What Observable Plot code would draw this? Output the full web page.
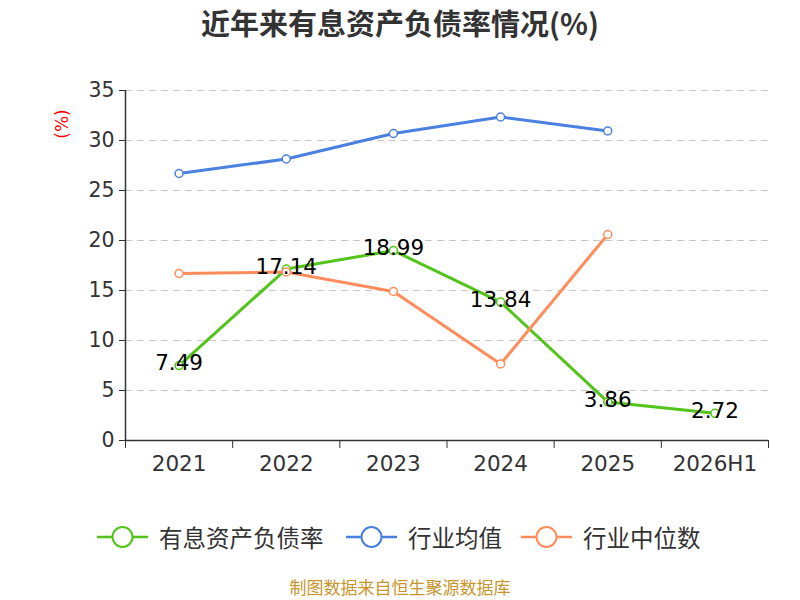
<!DOCTYPE html>
<html>
<head>
<meta charset="utf-8">
<script src="https://cdn.jsdelivr.net/npm/d3@7"></script>
<script src="https://cdn.jsdelivr.net/npm/@observablehq/plot@0.6"></script>
<style>
  body { margin: 0; background: #fff; font-family: "Noto Sans CJK SC", "Noto Sans", sans-serif; }
  #wrap { position: relative; width: 800px; height: 600px; overflow: hidden; }
  #title { position: absolute; top: 0px; left: 0; width: 800px; text-align: center; font-size: 29px; font-weight: bold; color: #333; line-height: 44px; }
  #unit { position: absolute; left: 47px; top: 114px; color: red; font-size: 17px; line-height: 20px; transform: rotate(-90deg); transform-origin: center; font-family: "DejaVu Sans", sans-serif; }
  #chart { position: absolute; left: 0; top: 70px; }
  #legend { position: absolute; top: 520px; left: 0; width: 800px; height: 34px; }
  .item { position: absolute; top: 0; display: flex; align-items: center; height: 34px; font-size: 23.5px; color: #333; }
  .item svg { margin-right: 11px; }
  #caption { position: absolute; top: 576px; left: 0; width: 800px; text-align: center; font-size: 17px; color: #c8952c; line-height: 22px; height: 22px; }
</style>
</head>
<body>
<div id="wrap">
  <div id="title">近年来有息资产负债率情况(%)</div>
  <div id="unit">(%)</div>
  <div id="chart"></div>
  <div id="legend"></div>
  <div id="caption">制图数据来自恒生聚源数据库</div>
</div>
<script>
const categories = ["2021", "2022", "2023", "2024", "2025", "2026H1"];
const debtRatio = [7.49, 17.14, 18.99, 13.84, 3.86, 2.72];
const industryMean = [26.7, 28.15, 30.7, 32.35, 30.95];
const industryMedian = [16.7, 16.85, 14.9, 7.65, 20.6];
const yTicks = [0, 5, 10, 15, 20, 25, 30, 35];
const seriesNames = ["有息资产负债率", "行业均值", "行业中位数"];
const colors = ["#52c41a", "#4a80e0", "#ff8c5a"];

const toRows = (vals) => vals.map((v, i) => ({ i: i + 0.5, v, label: categories[i] }));
const green = toRows(debtRatio);
const blue = toRows(industryMean);
const orange = toRows(industryMedian);
const boundaries = d3.range(categories.length + 1);
const centers = categories.map((c, i) => i + 0.5);

const numFont = "DejaVu Sans, sans-serif";

function series(data, color) {
  return [
    Plot.line(data, { x: "i", y: "v", stroke: color, strokeWidth: 3 }),
    Plot.dot(data, { x: "i", y: "v", r: 4, fill: "#fff", stroke: color, strokeWidth: 1.5 })
  ];
}

const chart = Plot.plot({
  width: 800,
  height: 410,
  marginTop: 20,
  marginBottom: 40,
  marginLeft: 125,
  marginRight: 32,
  style: { fontFamily: numFont, background: "transparent", overflow: "visible" },
  x: { domain: [0, categories.length], axis: null },
  y: { domain: [0, 35], axis: null },
  marks: [
    Plot.gridY(yTicks.filter(t => t > 0), { stroke: "#c8c8c8", strokeOpacity: 1, strokeDasharray: "7,5", strokeWidth: 1.2 }),
    Plot.axisY(yTicks, { tickSize: 6, tickPadding: 5, fontSize: 20.5, stroke: "#333", fill: "#333", label: null }),
    Plot.axisX(boundaries, { tickSize: 8, tickFormat: () => "", stroke: "#333", label: null }),
    Plot.axisX(centers, { tickSize: 0, tickPadding: 15, fontSize: 21.5, fill: "#333", tickFormat: d => categories[Math.floor(d)], label: null }),
    Plot.ruleX([0], { stroke: "#333", strokeWidth: 1.5 }),
    Plot.ruleY([0], { stroke: "#333", strokeWidth: 1.5 }),
    ...series(green, colors[0]),
    ...series(blue, colors[1]),
    ...series(orange, colors[2]),
    Plot.text(green, { x: "i", y: "v", text: d => d.v.toFixed(2), fontSize: 21.5, fill: "#000", dy: -2 })
  ]
});
document.getElementById("chart").appendChild(chart);

const legendX = [97, 346, 521];
const legend = document.getElementById("legend");
seriesNames.forEach((name, k) => {
  const div = document.createElement("div");
  div.className = "item";
  div.style.left = legendX[k] + "px";
  div.innerHTML = `<svg width="51" height="24"><line x1="0" y1="12" x2="51" y2="12" stroke="${colors[k]}" stroke-width="2.5"/><circle cx="25.5" cy="12" r="10" fill="#fff" stroke="${colors[k]}" stroke-width="2"/></svg><span>${name}</span>`;
  legend.appendChild(div);
});
</script>
</body>
</html>
